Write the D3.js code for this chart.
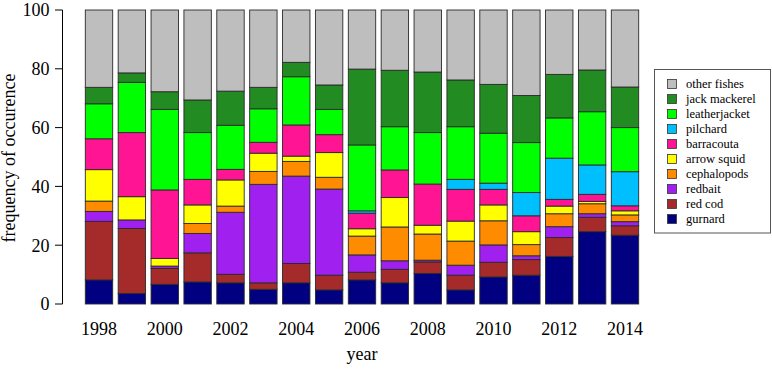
<!DOCTYPE html>
<html><head><meta charset="utf-8">
<script src="https://cdn.jsdelivr.net/npm/d3@7"></script>
<style>body{margin:0;background:#fff}svg{display:block}text{font-family:"Liberation Serif","Times New Roman",serif;fill:#000}</style>
</head><body><svg id="c" width="772" height="369"></svg>
<script>
const years = [1998,1999,2000,2001,2002,2003,2004,2005,2006,2007,2008,2009,2010,2011,2012,2013,2014];
const seriesNames = ["gurnard","red cod","redbait","cephalopods","arrow squid","barracouta","pilchard","leatherjacket","jack mackerel","other fishes"];
const colors = ["#000080","#a52a2a","#a020f0","#ff8c00","#ffff00","#ff1493","#00bfff","#00ff00","#228b22","#bebebe"];
const gurnard      = [8.2,3.6,6.7,7.5,7.2,5.0,7.2,4.8,8.2,7.2,10.4,4.8,9.2,9.8,16.2,24.6,23.4];
const redCod       = [19.9,22.1,5.4,9.9,2.9,2.2,6.6,5.0,2.6,4.6,3.9,5.0,5.0,5.3,6.4,4.9,3.2];
const redbait      = [3.4,2.9,0.8,6.6,21.1,33.5,29.7,29.3,5.9,2.9,0.6,3.4,5.9,1.3,3.7,1.2,1.4];
const cephalopods  = [3.5,0,0,3.4,2.1,4.4,5.0,4.0,6.4,11.5,8.9,8.2,8.2,3.8,4.4,3.4,2.3];
const arrowSquid   = [10.7,7.9,2.6,6.3,8.9,6.2,1.8,8.4,2.5,10.0,3.0,6.8,5.4,4.4,2.6,0.8,1.4];
const barracouta   = [10.5,21.8,23.3,8.7,3.6,3.7,10.6,6.1,5.3,9.4,14.0,10.8,5.3,5.4,2.3,2.4,1.7];
const pilchard     = [0,0,0,0,0,0,0,0,0.8,0,0,3.4,2.1,7.9,14.0,10.0,11.6];
const leatherjacket= [11.9,17.1,27.4,15.9,15.0,11.4,16.4,8.6,22.4,14.7,17.5,17.9,17.0,17.0,13.7,18.1,15.0];
const jackMackerel = [5.6,3.2,6.0,11.1,11.6,7.3,4.9,8.3,25.8,19.2,20.6,15.9,16.6,16.0,14.8,14.2,13.8];
const otherFishes  = [26.3,21.4,27.8,30.6,27.6,26.3,17.8,25.5,20.1,20.5,21.1,23.8,25.3,29.1,21.9,20.4,26.2];
const xTickLabels = [1998,2000,2002,2004,2006,2008,2010,2012,2014];
const yTicks = [0,20,40,60,80,100];

const all = [gurnard,redCod,redbait,cephalopods,arrowSquid,barracouta,pilchard,leatherjacket,jackMackerel,otherFishes];
const rows = years.map((y,i)=>{const r={year:y}; seriesNames.forEach((n,k)=>r[n]=all[k][i]); return r;});
const stacked = d3.stack().keys(seriesNames)(rows);

const svg = d3.select("#c");
const x = d3.scaleBand().domain(years).range([85.3,638.7]).paddingInner(1/6).paddingOuter(0);
const y = d3.scaleLinear().domain([0,100]).range([304,10]);

svg.append("g").selectAll("g").data(stacked).join("g")
  .attr("fill",(d,i)=>colors[i])
  .selectAll("rect").data(d=>d).join("rect")
  .attr("x",d=>x(d.data.year)).attr("width",x.bandwidth())
  .attr("y",d=>y(d[1])).attr("height",d=>Math.max(0,y(d[0])-y(d[1])))
  .attr("stroke","#2a2a2a").attr("stroke-width",0.9);

// y axis
const ya = svg.append("g").attr("transform","translate(62.5,0)");
ya.append("line").attr("x1",0).attr("x2",0).attr("y1",y(0)).attr("y2",y(100)).attr("stroke","#000");
yTicks.forEach(t=>{
  ya.append("line").attr("x1",-7.5).attr("x2",0).attr("y1",y(t)).attr("y2",y(t)).attr("stroke","#000");
  ya.append("text").attr("x",-13).attr("y",y(t)).attr("dy","0.35em").attr("text-anchor","end").style("font-size","18px").text(t);
});
svg.append("text").attr("transform","translate(15,158) rotate(-90)").attr("text-anchor","middle").style("font-size","18px").text("frequency of occurence");

// x labels
xTickLabels.forEach(t=>{
  svg.append("text").attr("x",x(t)+x.bandwidth()/2).attr("y",334.5).attr("text-anchor","middle").style("font-size","18px").text(t);
});
svg.append("text").attr("x",362).attr("y",360).attr("text-anchor","middle").style("font-size","18px").text("year");

// legend
const lg = svg.append("g");
lg.append("rect").attr("x",654.5).attr("y",69.5).attr("width",116).attr("height",163.5).attr("fill","none").attr("stroke","#555");
const order = seriesNames.slice().reverse();
order.forEach((n,i)=>{
  const k = seriesNames.indexOf(n);
  const cy = 84 + i*15;
  lg.append("rect").attr("x",667.5).attr("y",cy-4.5).attr("width",9).attr("height",9).attr("fill",colors[k]).attr("stroke","#333").attr("stroke-width",0.8);
  lg.append("text").attr("x",686).attr("y",cy).attr("dy","0.33em").style("font-size","12.5px").text(n);
});
</script></body></html>
